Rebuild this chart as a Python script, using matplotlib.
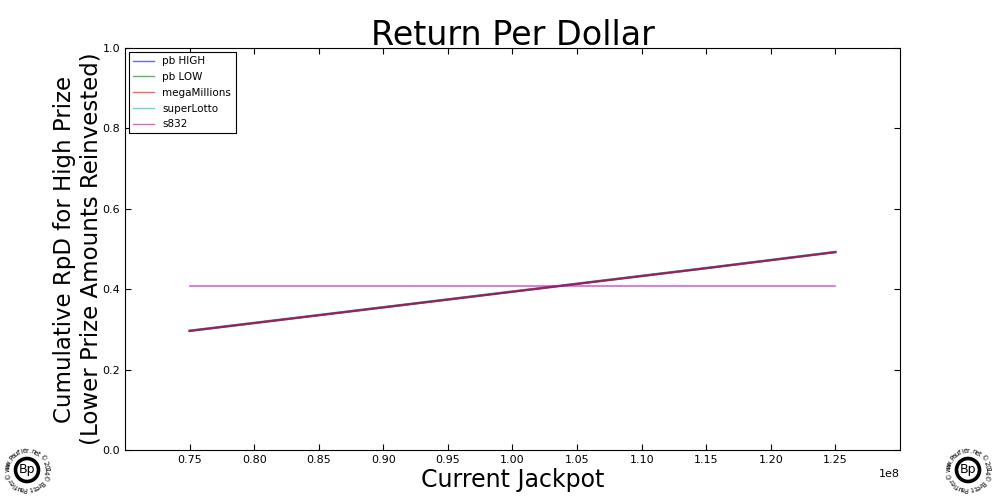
import numpy as np
import matplotlib
matplotlib.use('Agg')
import matplotlib.pyplot as plt
from matplotlib.patches import Circle

jackpot = [75e6, 85e6, 95e6, 105e6, 115e6, 125e6]
pb_high = [0.296, 0.335, 0.374, 0.413, 0.452, 0.492]
pb_low = [0.297, 0.336, 0.375, 0.414, 0.453, 0.493]
mega = [0.296, 0.335, 0.374, 0.413, 0.452, 0.492]
super_lotto = [0.297, 0.336, 0.375, 0.414, 0.453, 0.493]
s832 = [0.409, 0.409, 0.409, 0.409, 0.409, 0.409]

names = ['pb HIGH', 'pb LOW', 'megaMillions', 'superLotto', 's832']
colors = ['b', 'g', 'r', 'c', 'm']
zorders = [2.3, 2.0, 2.4, 2.1, 2.5]
series = [pb_high, pb_low, mega, super_lotto, s832]

fig = plt.figure(figsize=(10, 5), dpi=100)
ax = fig.add_axes([0.125, 0.1, 0.775, 0.804])

for vals, name, c, z in zip(series, names, colors, zorders):
    lw = 1.2 if name == 's832' else 1.5
    ax.plot(jackpot, vals, color=c, alpha=0.6, lw=lw, label=name, zorder=z)

ax.set_xlim(0.70e8, 1.30e8)
ax.set_ylim(0, 1.0)
ax.set_xticks(np.arange(0.75e8, 1.26e8, 0.05e8))
ax.set_yticks(np.arange(0, 1.01, 0.2))
ax.tick_params(direction='in', labelsize=8, length=4, top=True, right=True)
ax.xaxis.get_offset_text().set_fontsize(8)
ax.set_title('Return Per Dollar', fontsize=24, pad=2)
ax.set_xlabel('Current Jackpot', fontsize=17, labelpad=2)
ax.set_ylabel('Cumulative RpD for High Prize\n(Lower Prize Amounts Reinvested)', fontsize=16.5, labelpad=0)
leg = ax.legend(loc='upper left', fontsize=7.5, fancybox=False, framealpha=1,
                edgecolor='black', handlelength=2.0, labelspacing=0.55,
                borderaxespad=0.4)
leg.get_frame().set_linewidth(0.8)
for line in leg.get_lines():
    line.set_linewidth(1.0)


def logo(cx, cy):
    # cx, cy in pixels from lower left
    w, h = 1000, 500
    ring = Circle((cx, cy), 11.5, fill=False, lw=2.6, ec='black', transform=None)
    fig.patches.append(ring)
    fig.text(cx / w, cy / h, 'Bp', ha='center', va='center', fontsize=9)
    txt = '\u00a9 www.Paufler.net \u00a9 2014 \u00a9 Brett Paufler '
    n = len(txt)
    r = 19
    start = 195
    for i, ch in enumerate(txt):
        ang = np.deg2rad(start - i * 360.0 / n)
        x = cx + r * np.cos(ang)
        y = cy + r * np.sin(ang)
        fig.text(x / w, y / h, ch, ha='center', va='center', fontsize=5,
                 rotation=np.rad2deg(ang) - 90)


logo(27, 30)
logo(968, 30)

fig.savefig('out.png', dpi=100)
